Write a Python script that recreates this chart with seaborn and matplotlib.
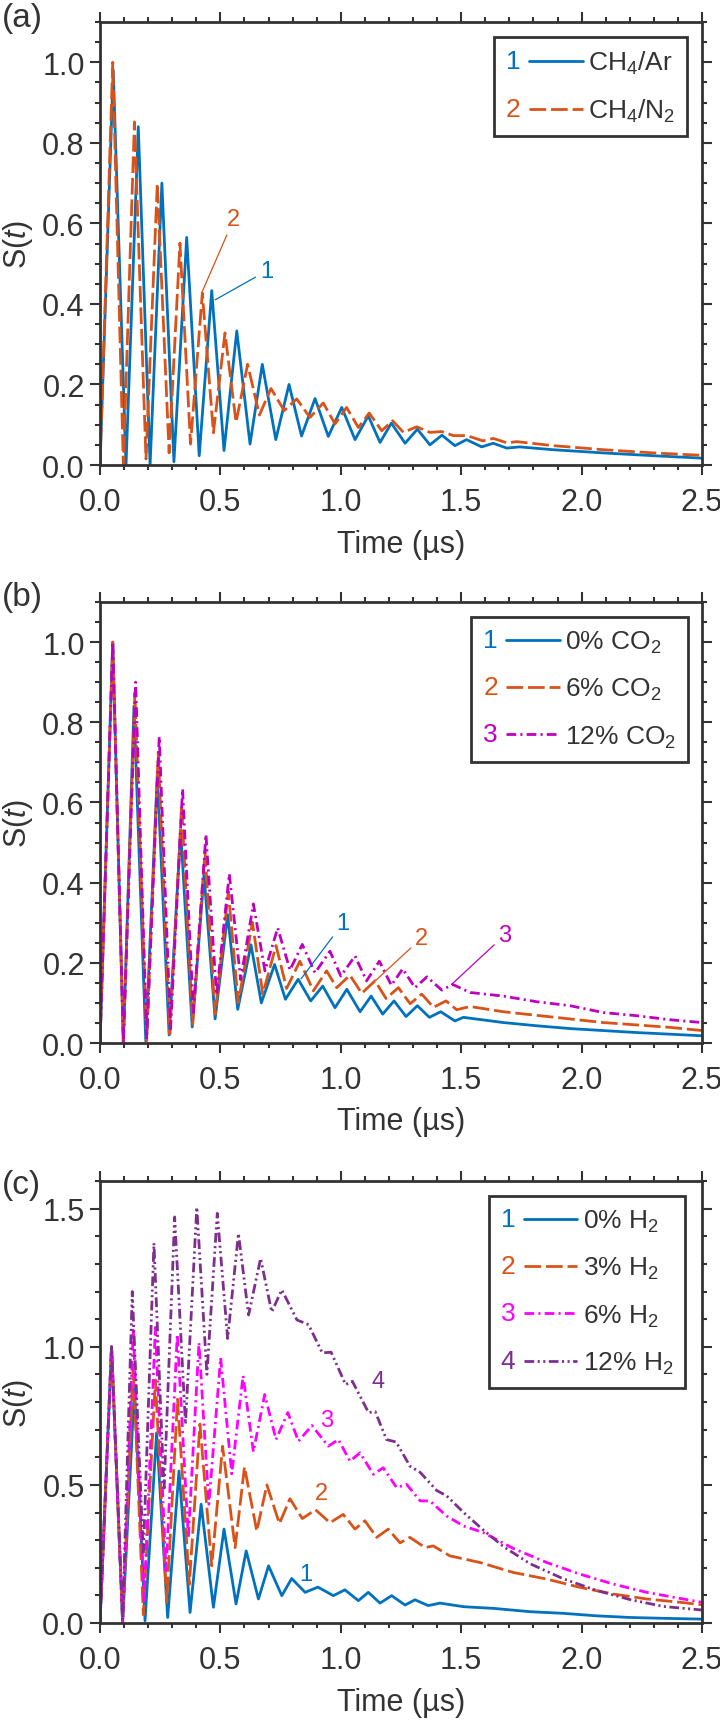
import numpy as np
import pandas as pd
import matplotlib
matplotlib.use("Agg")
import matplotlib.pyplot as plt
import seaborn as sns
from matplotlib.legend_handler import HandlerBase
from matplotlib.lines import Line2D
from matplotlib.text import Text
from matplotlib.ticker import MultipleLocator, FormatStrFormatter

# ---------------- data ----------------
# Panel (a)
a_ar_t = [0, 0.055, 0.108, 0.159, 0.208, 0.257, 0.307, 0.36, 0.412, 0.464, 0.515, 0.568, 0.623, 0.674, 0.73,
          0.785, 0.837, 0.893, 0.948, 1.004, 1.059, 1.114, 1.163, 1.21, 1.267, 1.318, 1.37, 1.42, 1.474, 1.522,
          1.585, 1.633, 1.689, 1.743, 1.88, 2.09, 2.3, 2.5]
a_ar_s = [0.0, 0.98, 0.0, 0.84, 0.0, 0.70, 0.008, 0.565, 0.023, 0.433, 0.036, 0.333, 0.052, 0.25, 0.063,
          0.20, 0.072, 0.165, 0.071, 0.143, 0.063, 0.122, 0.056, 0.104, 0.054, 0.089, 0.05, 0.074, 0.048, 0.063,
          0.045, 0.054, 0.042, 0.045, 0.038, 0.03, 0.023, 0.017]
a_n2_t = [0, 0.053, 0.097, 0.143, 0.191, 0.238, 0.287, 0.332, 0.376, 0.425, 0.471, 0.519, 0.565, 0.613, 0.662,
          0.71, 0.765, 0.817, 0.872, 0.927, 0.976, 1.024, 1.073, 1.118, 1.17, 1.215, 1.26, 1.315, 1.37, 1.419,
          1.467, 1.523, 1.59, 1.633, 1.69, 1.73, 1.883, 2.09, 2.298, 2.5]
a_n2_s = [0.0, 1.0, 0.0, 0.852, 0.015, 0.699, 0.03, 0.551, 0.052, 0.427, 0.08, 0.328, 0.106, 0.25, 0.124,
          0.19, 0.135, 0.164, 0.118, 0.154, 0.102, 0.143, 0.093, 0.129, 0.085, 0.11, 0.081, 0.095, 0.081, 0.083,
          0.073, 0.073, 0.06, 0.066, 0.055, 0.058, 0.048, 0.038, 0.03, 0.024]

# Panel (b)
b_0_t = [0, 0.053, 0.097, 0.141, 0.19, 0.238, 0.287, 0.335, 0.383, 0.432, 0.478, 0.53, 0.572, 0.627, 0.67,
         0.725, 0.77, 0.823, 0.875, 0.925, 0.976, 1.025, 1.08, 1.126, 1.174, 1.221, 1.271, 1.318, 1.368, 1.415,
         1.474, 1.509, 1.675, 1.813, 1.952, 2.09, 2.23, 2.367, 2.5]
b_0_s = [0.0, 1.0, 0.0, 0.84, 0.005, 0.67, 0.02, 0.53, 0.04, 0.42, 0.06, 0.32, 0.084, 0.245, 0.10,
         0.196, 0.109, 0.159, 0.105, 0.142, 0.088, 0.134, 0.078, 0.117, 0.072, 0.105, 0.066, 0.093, 0.064, 0.078,
         0.055, 0.064, 0.051, 0.043, 0.036, 0.031, 0.026, 0.022, 0.018]
b_6_t = [0, 0.053, 0.097, 0.145, 0.194, 0.242, 0.29, 0.339, 0.385, 0.436, 0.478, 0.533, 0.574, 0.633, 0.676,
         0.731, 0.775, 0.83, 0.886, 0.941, 0.983, 1.038, 1.087, 1.142, 1.188, 1.239, 1.288, 1.336, 1.385, 1.437,
         1.481, 1.537, 1.675, 1.813, 1.952, 2.09, 2.23, 2.367, 2.5]
b_6_s = [0.0, 1.0, 0.0, 0.874, 0.006, 0.725, 0.022, 0.593, 0.047, 0.477, 0.072, 0.378, 0.10, 0.301, 0.122,
         0.243, 0.136, 0.204, 0.13, 0.18, 0.138, 0.169, 0.124, 0.155, 0.111, 0.138, 0.098, 0.122, 0.089, 0.105,
         0.083, 0.091, 0.078, 0.069, 0.06, 0.051, 0.045, 0.039, 0.031]
b_12_t = [0, 0.053, 0.097, 0.148, 0.194, 0.246, 0.293, 0.343, 0.388, 0.44, 0.484, 0.537, 0.584, 0.637, 0.685,
          0.738, 0.789, 0.84, 0.893, 0.955, 1.0, 1.059, 1.107, 1.16, 1.21, 1.257, 1.308, 1.358, 1.419, 1.465,
          1.537, 1.675, 1.813, 1.952, 2.09, 2.23, 2.367, 2.5]
b_12_s = [0.0, 1.0, 0.0, 0.90, 0.01, 0.764, 0.035, 0.634, 0.076, 0.52, 0.12, 0.422, 0.158, 0.347, 0.18,
          0.287, 0.182, 0.246, 0.175, 0.229, 0.167, 0.217, 0.155, 0.204, 0.144, 0.185, 0.138, 0.165, 0.132, 0.146,
          0.126, 0.117, 0.103, 0.093, 0.076, 0.068, 0.058, 0.051]

# Panel (c)
c_0_t = [0, 0.048, 0.094, 0.143, 0.187, 0.235, 0.281, 0.328, 0.374, 0.42, 0.471, 0.515, 0.565, 0.607, 0.658,
         0.70, 0.755, 0.796, 0.852, 0.905, 0.969, 1.017, 1.073, 1.114, 1.163, 1.211, 1.267, 1.308, 1.363, 1.412,
         1.51, 1.633, 1.785, 1.924, 2.062, 2.2, 2.339, 2.5]
c_0_s = [0.0, 1.0, 0.0, 0.851, 0.008, 0.688, 0.02, 0.55, 0.038, 0.43, 0.057, 0.34, 0.069, 0.261, 0.087,
         0.207, 0.099, 0.161, 0.111, 0.13, 0.099, 0.12, 0.081, 0.111, 0.072, 0.099, 0.065, 0.084, 0.063, 0.072,
         0.059, 0.053, 0.041, 0.035, 0.026, 0.02, 0.017, 0.014]
c_3_t = [0, 0.048, 0.094, 0.138, 0.18, 0.23, 0.277, 0.322, 0.371, 0.415, 0.464, 0.509, 0.561, 0.60, 0.651,
         0.693, 0.745, 0.789, 0.84, 0.895, 0.955, 1.01, 1.059, 1.1, 1.149, 1.197, 1.246, 1.287, 1.35, 1.384,
         1.453, 1.578, 1.716, 1.855, 1.993, 2.131, 2.27, 2.409, 2.5]
c_3_s = [0.0, 1.0, 0.0, 0.935, 0.03, 0.88, 0.075, 0.81, 0.14, 0.72, 0.207, 0.64, 0.273, 0.565, 0.333,
         0.50, 0.36, 0.45, 0.378, 0.41, 0.363, 0.393, 0.34, 0.37, 0.31, 0.34, 0.29, 0.31, 0.273, 0.279,
         0.243, 0.219, 0.183, 0.159, 0.129, 0.105, 0.087, 0.075, 0.066]
c_6_t = [0, 0.048, 0.094, 0.138, 0.183, 0.23, 0.274, 0.321, 0.367, 0.411, 0.452, 0.501, 0.547, 0.594, 0.637,
         0.684, 0.731, 0.78, 0.824, 0.88, 0.948, 0.99, 1.038, 1.08, 1.135, 1.176, 1.232, 1.273, 1.33, 1.37,
         1.44, 1.51, 1.59, 1.716, 1.855, 1.993, 2.131, 2.27, 2.409, 2.5]
c_6_s = [0.0, 1.0, 0.0, 1.06, 0.08, 1.07, 0.19, 1.045, 0.31, 1.015, 0.43, 0.96, 0.54, 0.895, 0.62,
         0.827, 0.664, 0.762, 0.658, 0.715, 0.64, 0.664, 0.586, 0.616, 0.538, 0.562, 0.49, 0.502, 0.442, 0.442,
         0.387, 0.351, 0.328, 0.27, 0.219, 0.177, 0.141, 0.111, 0.089, 0.075]
c_12_t = [0, 0.048, 0.094, 0.134, 0.18, 0.224, 0.266, 0.31, 0.355, 0.402, 0.444, 0.487, 0.53, 0.575, 0.617,
          0.667, 0.713, 0.755, 0.818, 0.866, 0.923, 0.96, 1.02, 1.048, 1.115, 1.143, 1.19, 1.23, 1.287, 1.33,
          1.398, 1.44, 1.51, 1.59, 1.675, 1.785, 1.924, 2.062, 2.2, 2.339, 2.5]
c_12_s = [0.0, 1.0, 0.01, 1.2, 0.25, 1.375, 0.48, 1.47, 0.72, 1.505, 0.90, 1.483, 1.03, 1.41, 1.115,
          1.32, 1.126, 1.206, 1.097, 1.08, 0.978, 0.98, 0.863, 0.875, 0.762, 0.765, 0.664, 0.655, 0.568, 0.545,
          0.48, 0.46, 0.40, 0.338, 0.277, 0.215, 0.16, 0.118, 0.085, 0.06, 0.047]

a_labels = ["CH$_4$/Ar", "CH$_4$/N$_2$"]
b_labels = ["0% CO$_2$", "6% CO$_2$", "12% CO$_2$"]
c_labels = ["0% H$_2$", "3% H$_2$", "6% H$_2$", "12% H$_2$"]
panel_tags = ["(a)", "(b)", "(c)"]
x_ticks = [0.0, 0.5, 1.0, 1.5, 2.0, 2.5]

# ---------------- style ----------------
sns.set_style("ticks")
INK = "#333333"
plt.rcParams.update({
    "font.family": ["Liberation Sans", "DejaVu Sans"],
    "mathtext.fontset": "custom",
    "mathtext.rm": "Liberation Sans",
    "mathtext.it": "Liberation Sans:italic",
    "mathtext.default": "regular",
    "lines.scale_dashes": False,
    "text.color": INK,
    "axes.labelcolor": INK,
    "xtick.color": INK,
    "ytick.color": INK,
})

BLUE = "#0072BD"
ORANGE = "#D95319"
MAG_B = "#BF00BF"
MAG_C = "#FF00FF"
PURPLE = "#7E2F8E"
LS_SOLID = "-"
LS_DASH = (0, (12, 3.5))
LS_DASHDOT = (0, (7, 3, 1.5, 3))
LS_DASHDOTDOT = (0, (7, 2.5, 1.5, 2.5, 1.5, 2.5))
LW = 2.0
TICK_FS = 22
LABEL_FS = 22
LEG_FS = 19
ANN_FS = 17
TAG_FS = 24


class NumHandler(HandlerBase):
    def __init__(self, num, color, ls):
        super().__init__()
        self.num, self.color, self.ls = num, color, ls

    def create_artists(self, legend, orig_handle, xdescent, ydescent, width, height, fontsize, trans):
        yc = -ydescent + height / 2
        t = Text(-xdescent, yc, self.num, color=self.color, fontsize=fontsize,
                 ha="left", va="center", transform=trans)
        x0 = -xdescent + 0.30 * width
        ln = Line2D([x0, -xdescent + width], [yc, yc], color=self.color, linestyle=self.ls,
                    lw=LW, transform=trans)
        return [t, ln]


W, H = 720, 1724
fig = plt.figure(figsize=(W / 100, H / 100), dpi=100)
left, right = 100, 702
panels = [(23, 466), (603, 1044), (1182, 1624)]
axes = []
for top, bot in panels:
    ax = fig.add_axes([left / W, 1 - bot / H, (right - left) / W, (bot - top) / H])
    axes.append(ax)


def draw(ax, t, s, color, ls):
    df = pd.DataFrame({"t": t, "s": s})
    sns.lineplot(data=df, x="t", y="s", ax=ax, color=color, linestyle=ls, lw=LW,
                 estimator=None, sort=False)
    return ax.lines[-1]


series = [
    [(a_ar_t, a_ar_s, BLUE, LS_SOLID), (a_n2_t, a_n2_s, ORANGE, LS_DASH)],
    [(b_0_t, b_0_s, BLUE, LS_SOLID), (b_6_t, b_6_s, ORANGE, LS_DASH), (b_12_t, b_12_s, MAG_B, LS_DASHDOT)],
    [(c_0_t, c_0_s, BLUE, LS_SOLID), (c_3_t, c_3_s, ORANGE, LS_DASH), (c_6_t, c_6_s, MAG_C, LS_DASHDOT),
     (c_12_t, c_12_s, PURPLE, LS_DASHDOTDOT)],
]
labels = [a_labels, b_labels, c_labels]
ylims = [(0, 1.1), (0, 1.1), (0, 1.6)]
ymaj = [0.2, 0.2, 0.5]
ymin = [0.05, 0.05, 0.1]
leg_anchor = [(0.975, 0.966), (0.977, 0.966), (0.972, 0.966)]
tag_y = [19, 598, 1186]

for i, ax in enumerate(axes):
    handles, hmap = [], {}
    for k, (t, s, c, ls) in enumerate(series[i]):
        ln = draw(ax, t, s, c, ls)
        handles.append(ln)
        hmap[ln] = NumHandler(str(k + 1), c, ls)
    ax.set_xlim(0, 2.5)
    ax.set_ylim(*ylims[i])
    ax.set_xticks(x_ticks)
    ax.xaxis.set_minor_locator(MultipleLocator(0.1))
    ax.yaxis.set_major_locator(MultipleLocator(ymaj[i]))
    ax.yaxis.set_minor_locator(MultipleLocator(ymin[i]))
    ax.set_xticklabels([f"{v:.1f}" for v in x_ticks])
    ax.yaxis.set_major_formatter(FormatStrFormatter("%.1f"))
    ax.tick_params(which="both", direction="out", top=True, right=True, labeltop=False,
                   labelright=False, width=1.5, color=INK)
    ax.tick_params(which="major", length=7, labelsize=TICK_FS)
    ax.tick_params(axis="x", which="major", pad=9)
    ax.tick_params(axis="y", which="major", pad=4)
    ax.tick_params(which="minor", length=3.5)
    for sp in ax.spines.values():
        sp.set_visible(True)
        sp.set_linewidth(2.0)
        sp.set_color(INK)
    ax.set_xlabel("Time (µs)", fontsize=LABEL_FS, va="center")
    ax.set_ylabel("S($\\mathit{t}$)", fontsize=LABEL_FS, va="center")
    ax.xaxis.set_label_coords(0.5, -0.178)
    ax.yaxis.set_label_coords(-0.136, 0.5)
    leg = ax.legend(handles, labels[i], handler_map=hmap, loc="upper right",
                    bbox_to_anchor=leg_anchor[i], borderaxespad=0, fontsize=LEG_FS,
                    handlelength=2.9, handletextpad=0.2, labelspacing=0.8,
                    borderpad=0.45, frameon=True, fancybox=False, framealpha=1)
    leg.get_frame().set_edgecolor(INK)
    leg.get_frame().set_linewidth(2.0)
    fig.text(2 / W, 1 - tag_y[i] / H, panel_tags[i], fontsize=TAG_FS, ha="left", va="center", color=INK)

# annotations
ann = dict(arrowstyle="-", lw=0.9, shrinkA=1, shrinkB=0)
axes[0].annotate("2", xy=(0.422, 0.427), xytext=(0.555, 0.61), color=ORANGE, fontsize=ANN_FS,
                 ha="center", va="center", arrowprops=dict(color=ORANGE, **ann))
axes[0].annotate("1", xy=(0.478, 0.41), xytext=(0.692, 0.482), color=BLUE, fontsize=ANN_FS,
                 ha="center", va="center", arrowprops=dict(color=BLUE, **ann))
axes[1].annotate("1", xy=(0.835, 0.16), xytext=(1.01, 0.30), color=BLUE, fontsize=ANN_FS,
                 ha="center", va="center", arrowprops=dict(color=BLUE, **ann))
axes[1].annotate("2", xy=(1.125, 0.145), xytext=(1.336, 0.262), color=ORANGE, fontsize=ANN_FS,
                 ha="center", va="center", arrowprops=dict(color=ORANGE, **ann))
axes[1].annotate("3", xy=(1.46, 0.146), xytext=(1.682, 0.27), color=MAG_B, fontsize=ANN_FS,
                 ha="center", va="center", arrowprops=dict(color=MAG_B, **ann))
axes[2].text(1.156, 0.875, "4", color=PURPLE, fontsize=ANN_FS, ha="center", va="center")
axes[2].text(0.942, 0.736, "3", color=MAG_C, fontsize=ANN_FS, ha="center", va="center")
axes[2].text(0.921, 0.472, "2", color=ORANGE, fontsize=ANN_FS, ha="center", va="center")
axes[2].text(0.856, 0.177, "1", color=BLUE, fontsize=ANN_FS, ha="center", va="center")

fig.savefig("out.png", dpi=100)
